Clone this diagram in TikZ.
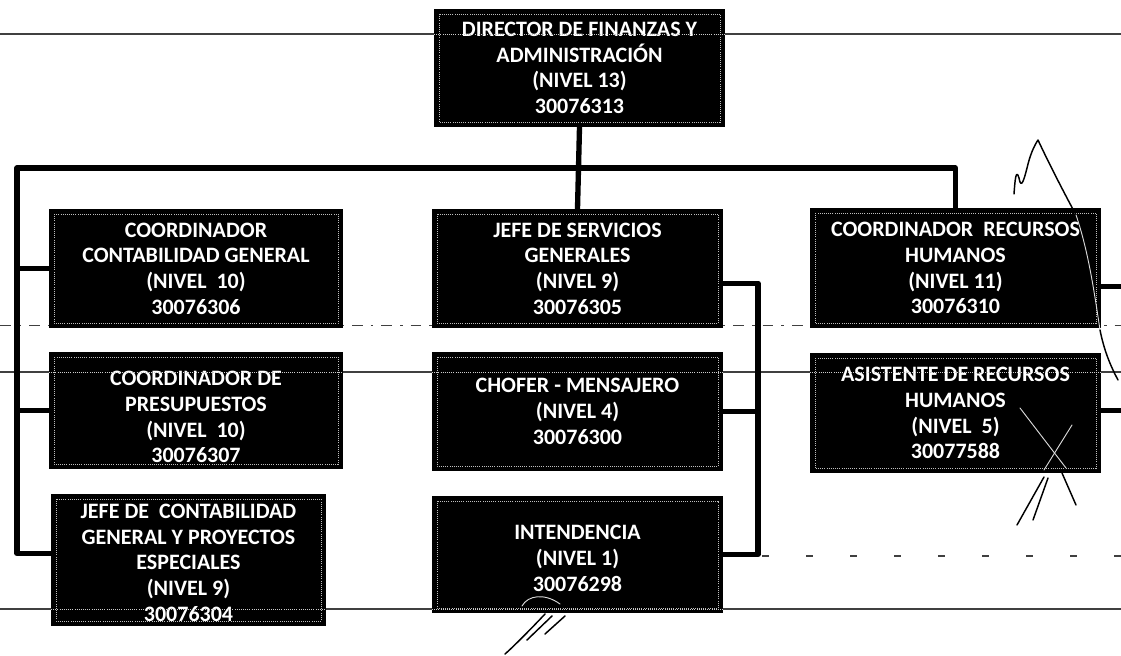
\documentclass[tikz,border=0pt]{standalone}
\usepackage{fontspec}
\newfontfamily\orgfamily{Carlito}
\begin{document}
\begin{tikzpicture}[x=0.75pt,y=-0.75pt,
  orgtext/.style={text=white, font=\orgfamily\bfseries\fontsize{16.5}{19.3}\selectfont, align=center, inner sep=0pt},
  orgbox/.style={orgtext, draw=black, line width=1.4pt, fill=black,
    path picture={\draw[white!75!black, densely dotted, line width=0.6pt]
      ([shift={(3pt,-3pt)}]path picture bounding box.north west) rectangle
      ([shift={(-3pt,3pt)}]path picture bounding box.south east);}},
  conn/.style={draw=black, line width=4pt, line join=round},
  scan/.style={draw=black!75, line width=0.9pt},
  sig/.style={draw=black, line width=1.1pt, line cap=round, line join=round},
  sigw/.style={draw=white!85!black, line width=0.7pt, line cap=round}]
\useasboundingbox (0,0) rectangle (1121,656);
\fill[white] (0,0) rectangle (1121,656);
% scan artefact lines (behind the boxes)
\draw[scan] (0,34) -- (1121,34);
\draw[scan, line width=0.7pt, dash pattern=on 8pt off 6pt on 2pt off 6pt] (0,325) -- (1121,325);
\draw[scan] (0,372) -- (1121,372);
\draw[scan, line width=0.8pt, dash pattern=on 5pt off 28pt] (762,556) -- (1121,556);
\draw[scan] (0,609) -- (1121,609);
% boxes
\node[orgbox, minimum width=216.75pt, minimum height=87pt] (dir) at (579.5,68)
  {DIRECTOR DE FINANZAS Y\\ADMINISTRACIÓN\\(NIVEL 13)\\30076313};
\node[orgbox, minimum width=219pt, minimum height=87.75pt] (b1) at (196,268.5)
  {COORDINADOR\\CONTABILIDAD GENERAL\\(NIVEL\ \ 10)\\30076306};
\node[orgbox, minimum width=219pt, minimum height=86.25pt] (b2) at (196,410.5) {};
\node[orgtext] (b2t) at ([yshift=-5pt]b2.center)
  {COORDINADOR DE\\PRESUPUESTOS\\(NIVEL\ \ 10)\\30076307};
\node[orgbox, minimum width=204.75pt, minimum height=97.5pt] (b3) at (188.5,560) {};
\node[orgtext] (b3t) at ([yshift=-2pt]b3.center)
  {JEFE DE\ \ CONTABILIDAD\\GENERAL Y PROYECTOS\\ESPECIALES\\(NIVEL 9)\\30076304};
\node[orgbox, minimum width=216.75pt, minimum height=87.75pt] (b4) at (577.5,268.5)
  {JEFE DE SERVICIOS\\GENERALES\\(NIVEL 9)\\30076305};
\node[orgbox, minimum width=216.75pt, minimum height=87.75pt] (b5) at (577.5,411.5)
  {CHOFER - MENSAJERO\\(NIVEL 4)\\30076300};
\node[orgbox, minimum width=216.75pt, minimum height=86.25pt] (b6) at (577.5,554.5) {};
\node[orgtext] (b6t) at ([yshift=-3pt]b6.center)
  {INTENDENCIA\\(NIVEL 1)\\30076298};
\node[orgbox, minimum width=216.75pt, minimum height=88.5pt] (b7) at (955.5,268)
  {COORDINADOR\ \ RECURSOS\\HUMANOS\\(NIVEL 11)\\30076310};
\node[orgbox, minimum width=216.75pt, minimum height=88.5pt] (b8) at (955.5,413)
  {ASISTENTE DE RECURSOS\\HUMANOS\\(NIVEL\ \ 5)\\30077588};
% scan lines showing through the boxes
\foreach \bx/\yy in {dir/34, b2/372, b5/372, b8/372, b3/609, b6/609}{
  \draw[white!80!black, densely dotted, line width=0.6pt]
    (\bx.west |- 0,\yy) -- (\bx.east |- 0,\yy);}
% connectors
\coordinate (lt) at (17,168);
\coordinate (mr) at (758,0);
\coordinate (re) at (1121,0);
\draw[conn] (dir.south) -- (b4.north);
\draw[conn] ([yshift=5pt]b3.west) -| (lt) -| (b7.north);
\draw[conn] (b1.west) -- (b1.west -| lt);
\draw[conn] (b2.west) -- (b2.west -| lt);
\draw[conn] ([yshift=-11pt]b4.east) -| (mr |- b6.east) -- (b6.east);
\draw[conn] (b5.east) -- (b5.east -| mr);
\draw[conn] ([yshift=-14pt]b7.east) -- ([yshift=-14pt]b7.east -| re);
\draw[conn] ([yshift=2pt]b8.east) -- ([yshift=2pt]b8.east -| re);
% handwritten marks
\draw[sig] (1014,194) .. controls (1015,180) and (1016,168) .. (1019,178)
  .. controls (1021,190) and (1024,180) .. (1027,168)
  .. controls (1030,155) and (1034,146) .. (1038,140)
  .. controls (1052,170) and (1068,200) .. (1076,215);
\draw[sigw] (1076,215) .. controls (1088,250) and (1094,290) .. (1100,330);
\draw[sig] (1100,330) .. controls (1104,350) and (1110,365) .. (1118,380);
\draw[sigw] (1020,408) -- (1066,468);
\draw[sigw] (1072,425) -- (1044,470);
\draw[sig] (1044,477) -- (1017,525);
\draw[sig] (1048,478) -- (1033,520);
\draw[sig] (1062,473) -- (1076,505);
\draw[sigw] (522,606) .. controls (528,595) and (545,593) .. (560,604);
\draw[sig] (545,614) .. controls (530,630) and (512,648) .. (505,654);
\draw[sig] (552,616) -- (527,640);
\draw[sig] (565,616) -- (545,634);
\end{tikzpicture}
\end{document}
